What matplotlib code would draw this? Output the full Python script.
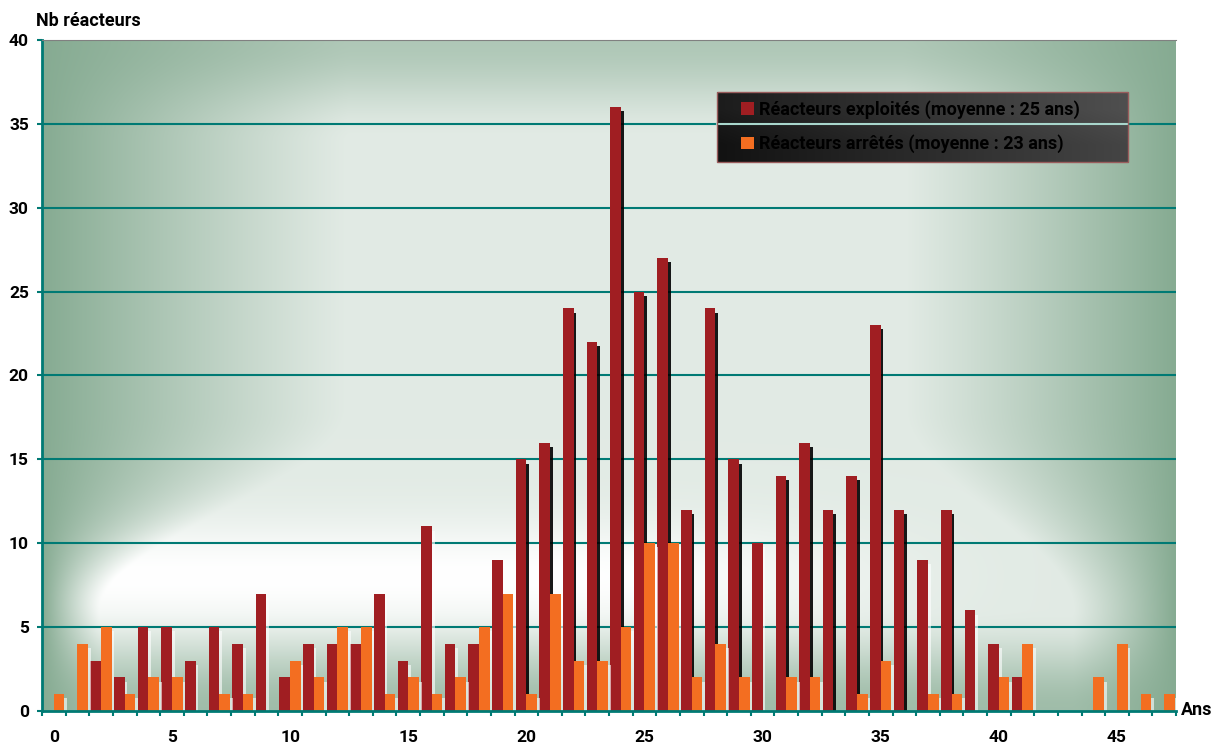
import numpy as np
import matplotlib
matplotlib.use("Agg")
import matplotlib.pyplot as plt
import matplotlib.patheffects as pe
from matplotlib.patches import Rectangle, Patch

plt.rcParams['font.family'] = ['Roboto', 'DejaVu Sans']

# ---- data ----
ages = list(range(48))
exploites = [0, 0, 3, 2, 5, 5, 3, 5, 4, 7,
             2, 4, 4, 4, 7, 3, 11, 4, 4, 9,
             15, 16, 24, 22, 36, 25, 27, 12, 24, 15,
             10, 14, 16, 12, 14, 23, 12, 9, 12, 6,
             4, 2, 0, 0, 0, 0, 0, 0]
arretes = [1, 4, 5, 1, 2, 2, 0, 1, 1, 0,
           3, 2, 5, 5, 1, 2, 1, 2, 5, 7,
           1, 7, 3, 3, 5, 10, 10, 2, 4, 2,
           0, 2, 2, 0, 1, 3, 0, 1, 1, 0,
           2, 4, 0, 0, 2, 4, 1, 1]
xtick_values = [0, 5, 10, 15, 20, 25, 30, 35, 40, 45]
xtick_labels = ['0', '5', '10', '15', '20', '25', '30', '35', '40', '45']
ytick_values = [0, 5, 10, 15, 20, 25, 30, 35, 40]
label_exploites = "Réacteurs exploités (moyenne : 25 ans)"
label_arretes = "Réacteurs arrêtés (moyenne : 23 ans)"

RED = '#a01e22'
ORANGE = '#f36e21'
TEAL = '#007a74'
GREEN = np.array([0x86, 0xab, 0x92]) / 255.0

W_PX, H_PX = 1213, 749
fig = plt.figure(figsize=(W_PX / 100, H_PX / 100), dpi=100)
ax = fig.add_axes([42 / W_PX, 1 - 711 / H_PX, (1176 - 42) / W_PX, (711 - 40) / H_PX])
ax.set_facecolor('none')

# ---- background gradient ----
def ss(e0, e1, x):
    t = np.clip((x - e0) / (e1 - e0), 0, 1)
    return t * t * (3 - 2 * t)

Wn, Hn = 600, 400
u = np.linspace(0, 1, Wn)[None, :]
v = np.linspace(0, 1, Hn)[:, None]
upper = ss(0.15, 0.45, v)
wl = 0.05 + 0.22 * upper
gL = np.clip(1 - u / wl, 0, 1) ** 1.1
gT = 0.55 * ss(0.85, 1.0, v)
ur0 = 0.76 + 0.15 * (1 - upper)
wr = 0.24 - 0.15 * (1 - upper)
gR = np.clip((u - ur0) / wr, 0, 1) ** 1.1
gB = 0.72 * (1 - ss(0.0, 0.15, v))
glow = np.exp(-((v - 0.2) / 0.08) ** 2) * (1 - ss(0.45, 0.9, u))
g0 = 0.24 * (1 - glow)
g = 1 - (1 - g0) * (1 - gL) * (1 - gT) * (1 - gR) * (1 - gB)
g = np.clip(g, 0, 1)[..., None]
img = (1 - g) * np.ones(3) + g * GREEN
ax.imshow(img, extent=[-0.5, 47.5, 0, 40], origin='lower', aspect='auto',
          interpolation='bicubic', zorder=0)

# ---- grid ----
for yv in ytick_values[1:-1]:
    ax.axhline(yv, color=TEAL, lw=1.5, zorder=1)

# ---- bars ----
x = np.array(ages)
bw = 0.45
b1 = ax.bar(x - bw / 2, exploites, width=bw, color=RED, zorder=3, linewidth=0)
b2 = ax.bar(x + bw / 2, arretes, width=bw, color=ORANGE, zorder=3, linewidth=0)
for bars, vals in ((b1, exploites), (b2, arretes)):
    for p, val in zip(bars, vals):
        if val >= 12:
            eff = pe.SimplePatchShadow(offset=(2, -3), shadow_rgbFace='black', alpha=0.9)
        else:
            eff = pe.SimplePatchShadow(offset=(2, -3), shadow_rgbFace='white', alpha=0.6)
        p.set_path_effects([eff, pe.Normal()])

# ---- axes ----
ax.set_xlim(-0.5, 47.5)
ax.set_ylim(0, 40)
ax.set_xticks(xtick_values)
ax.set_xticklabels(xtick_labels)
ax.set_xticks(np.arange(-0.5, 48, 1), minor=True)
ax.tick_params(axis='x', which='major', length=0, pad=14, labelsize=12.5)
ax.tick_params(axis='x', which='minor', length=3.5, width=1.5, color=TEAL, direction='out')
ax.set_yticks(ytick_values)
ax.tick_params(axis='y', which='major', length=3.5, width=1.5, color=TEAL, pad=6, labelsize=12.5)
for lab in ax.get_xticklabels() + ax.get_yticklabels():
    lab.set_fontweight('bold')
ax.spines['left'].set_color(TEAL)
ax.spines['left'].set_linewidth(2)
ax.spines['bottom'].set_color(TEAL)
ax.spines['bottom'].set_linewidth(2)
ax.spines['top'].set_color('#808080')
ax.spines['top'].set_linewidth(0.8)
ax.spines['right'].set_visible(False)
for s in ax.spines.values():
    s.set_zorder(4)

fig.text(36 / W_PX, 1 - 21 / H_PX, "Nb réacteurs", fontsize=13, fontweight='bold',
         ha='left', va='center')
fig.text(1181 / W_PX, 1 - 710 / H_PX, "Ans", fontsize=13, fontweight='bold',
         ha='left', va='center')

# ---- legend box (gradient) ----
lx0, lx1 = (717 - 42) / 1134, (1128 - 42) / 1134
ly1, ly0 = (711 - 92) / 671, (711 - 162) / 671
grad = np.linspace(0, 1, 256)[None, :]
gtop = np.linspace(1, 0, 2)[:, None]
lg = (0.07 + 0.20 * grad) + 0.04 * gtop
lg_img = np.repeat(np.clip(lg, 0, 1)[..., None], 3, axis=2)
ax.imshow(lg_img, extent=[lx0, lx1, ly0, ly1], transform=ax.transAxes,
          aspect='auto', interpolation='bilinear', zorder=5)
ax.plot([lx0, lx1], [35 / 40] * 2, transform=ax.transAxes, color='#a8d6cc',
        lw=1.5, zorder=5.5)
ax.add_patch(Rectangle((lx0, ly0), lx1 - lx0, ly1 - ly0, transform=ax.transAxes,
                       fill=False, edgecolor='#9a5c5c', lw=1, zorder=6))
handles = [Patch(facecolor=RED, edgecolor='none', label=label_exploites),
           Patch(facecolor=ORANGE, edgecolor='none', label=label_arretes)]
leg = ax.legend(handles=handles, loc='center left',
                bbox_to_anchor=((741 - 42) / 1134, (ly0 + ly1) / 2),
                frameon=False, borderpad=0, borderaxespad=0,
                handlelength=0.72, handleheight=0.72, handletextpad=0.28,
                labelspacing=0.85, prop={'family': 'Roboto', 'weight': 'bold', 'size': 13})
leg.set_zorder(7)
for t in leg.get_texts():
    t.set_color('black')

ax.set_xlim(-0.5, 47.5)
ax.set_ylim(0, 40)
fig.savefig('out.png', dpi=100)
